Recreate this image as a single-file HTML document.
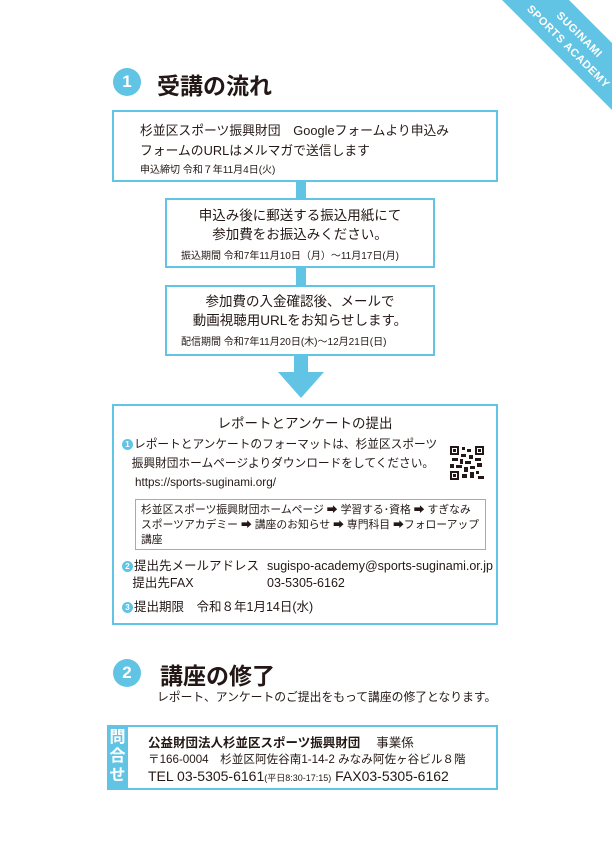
<!DOCTYPE html>
<html><head><meta charset="utf-8"><style>
body{margin:0;width:612px;height:864px;background:#fff;position:relative;overflow:hidden;font-family:"Liberation Sans","Noto Sans CJK JP",sans-serif;color:#231815}
.a{position:absolute;white-space:nowrap}
.box{position:absolute;border:2px solid #62c4e4;box-sizing:border-box;background:#fff}
.bar{position:absolute;background:#62c4e4}
.num{position:absolute;width:28px;height:28px;border-radius:50%;background:#62c4e4;color:#fff;font-weight:bold;font-size:17px;text-align:center;line-height:28px}
.n{display:inline-block;width:11px;height:11px;border-radius:50%;background:#62c4e4;color:#fff;font-size:8px;line-height:11px;text-align:center;font-weight:bold;vertical-align:1px;margin-right:1px}
.rb{position:absolute;white-space:nowrap;color:#fff;font-weight:bold;font-size:11px;letter-spacing:0.6px;transform:translate(-50%,-50%) rotate(45deg)}
</style></head><body>
<svg class="a" style="left:0;top:0" width="612" height="864">
<polygon points="502,0 569,0 612,43 612,110" fill="#62c4e4"/>
</svg>
<div class="rb" style="left:579px;top:35px">SUGINAMI</div>
<div class="rb" style="left:568px;top:47px">SPORTS ACADEMY</div>

<div class="num" style="left:113px;top:68px">1</div>
<div class="a" style="left:157px;top:67px;font-size:23px;font-weight:bold">受講の流れ</div>

<div class="bar" style="left:296px;top:180px;width:10px;height:20px"></div>
<div class="bar" style="left:296px;top:266px;width:10px;height:20px"></div>
<div class="bar" style="left:294px;top:354px;width:14px;height:20px"></div>
<svg class="a" style="left:278px;top:372px" width="46" height="26"><polygon points="0,0 46,0 23,26" fill="#62c4e4"/></svg>

<div class="box" style="left:112px;top:110px;width:386px;height:72px"></div>
<div class="a" style="left:140px;top:120px;font-size:12.8px">杉並区スポーツ振興財団　Googleフォームより申込み</div>
<div class="a" style="left:140px;top:140px;font-size:12.8px">フォームのURLはメルマガで送信します</div>
<div class="a" style="left:140px;top:161px;font-size:10px">申込締切  令和７年11月4日(火)</div>

<div class="box" style="left:165px;top:198px;width:270px;height:70px"></div>
<div class="a" style="left:165px;width:270px;text-align:center;top:206px;font-size:13.5px;line-height:19px">申込み後に郵送する振込用紙にて<br>参加費をお振込みください。</div>
<div class="a" style="left:181px;top:247px;font-size:10px">振込期間 令和7年11月10日（月）～11月17日(月)</div>

<div class="box" style="left:165px;top:285px;width:270px;height:71px"></div>
<div class="a" style="left:165px;width:270px;text-align:center;top:292px;font-size:13.5px;line-height:19px">参加費の入金確認後、メールで<br>動画視聴用URLをお知らせします。</div>
<div class="a" style="left:181px;top:333px;font-size:10px">配信期間 令和7年11月20日(木)～12月21日(日)</div>

<div class="box" style="left:112px;top:404px;width:386px;height:221px"></div>
<div class="a" style="left:112px;width:386px;text-align:center;top:412px;font-size:13.5px">レポートとアンケートの提出</div>
<div class="a" style="left:122px;top:435px;font-size:11.7px;line-height:19px"><span class="n">1</span>レポートとアンケートのフォーマットは、杉並区スポーツ<br>&nbsp;&nbsp;&nbsp;振興財団ホームページよりダウンロードをしてください。<br>&nbsp;&nbsp;&nbsp;&nbsp;https://sports-suginami.org/</div>
<svg class="a" style="left:450px;top:446px" width="34" height="34">
<g fill="#231815">
<rect x="0" y="0" width="9" height="9"/><rect x="25" y="0" width="9" height="9"/><rect x="0" y="25" width="9" height="9"/>
<rect x="12" y="1" width="3" height="3"/><rect x="17" y="3" width="4" height="3"/><rect x="11" y="8" width="5" height="3"/><rect x="19" y="9" width="4" height="4"/>
<rect x="2" y="12" width="6" height="3"/><rect x="10" y="13" width="3" height="5"/><rect x="15" y="15" width="6" height="3"/><rect x="25" y="12" width="6" height="3"/>
<rect x="27" y="17" width="5" height="4"/><rect x="0" y="18" width="4" height="4"/><rect x="6" y="19" width="6" height="3"/><rect x="14" y="21" width="4" height="5"/>
<rect x="20" y="20" width="5" height="3"/><rect x="12" y="28" width="5" height="4"/><rect x="20" y="26" width="4" height="6"/><rect x="26" y="25" width="3" height="3"/><rect x="28" y="30" width="6" height="3"/>
</g>
<g fill="#fff"><rect x="2" y="2" width="5" height="5"/><rect x="27" y="2" width="5" height="5"/><rect x="2" y="27" width="5" height="5"/></g>
<g fill="#231815"><rect x="3" y="3" width="3" height="3"/><rect x="28" y="3" width="3" height="3"/><rect x="3" y="28" width="3" height="3"/></g>
</svg>
<div class="box" style="left:135px;top:499px;width:351px;height:51px;border-width:1.5px"></div>
<div class="a" style="left:141px;top:503px;font-size:10.8px;line-height:15px">杉並区スポーツ振興財団ホームページ ➡ 学習する･資格 ➡ すぎなみ<br>スポーツアカデミー ➡ 講座のお知らせ ➡ 専門科目 ➡フォローアップ<br>講座</div>
<div class="a" style="left:122px;top:558px;font-size:12.5px;line-height:17px"><span class="n">2</span>提出先メールアドレス<br>&nbsp;&nbsp;&nbsp;提出先FAX</div>
<div class="a" style="left:267px;top:558px;font-size:12.5px;line-height:17px">sugispo-academy@sports-suginami.or.jp<br>03-5305-6162</div>
<div class="a" style="left:122px;top:596px;font-size:12.5px"><span class="n">3</span>提出期限　令和８年1月14日(水)</div>

<div class="num" style="left:113px;top:659px">2</div>
<div class="a" style="left:160px;top:657px;font-size:23px;font-weight:bold">講座の修了</div>
<div class="a" style="left:157px;top:688px;font-size:11.8px">レポート、アンケートのご提出をもって講座の修了となります。</div>

<div class="box" style="left:107px;top:725px;width:391px;height:65px"></div>
<div class="bar" style="left:107px;top:725px;width:21px;height:65px"></div>
<div class="a" style="left:107px;width:21px;text-align:center;top:728px;color:#fff;font-weight:bold;font-size:16px;line-height:19px">問<br>合<br>せ</div>
<div class="a" style="left:148px;top:732px;font-size:12.5px"><b>公益財団法人杉並区スポーツ振興財団</b>　 事業係</div>
<div class="a" style="left:148px;top:751px;font-size:11.6px">〒166-0004　杉並区阿佐谷南1-14-2 みなみ阿佐ヶ谷ビル８階</div>
<div class="a" style="left:148px;top:768px;font-size:14px">TEL 03-5305-6161<span style="font-size:9px">(平日8:30-17:15)</span>  FAX03-5305-6162</div>
</body></html>
